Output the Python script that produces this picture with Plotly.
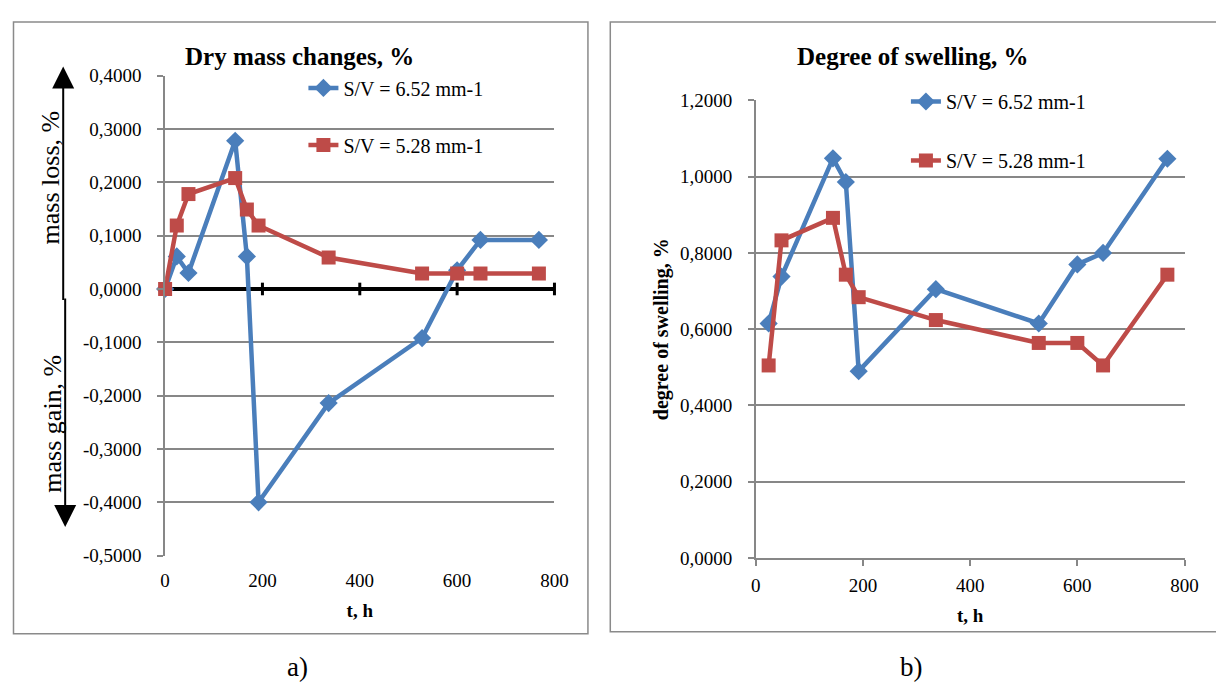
import plotly.graph_objects as go

# ---- data ----
hours_a = [0, 24, 48, 144, 168, 192, 336, 528, 600, 648, 768]
mass_652 = [0.0, 0.061, 0.030, 0.278, 0.061, -0.400, -0.214, -0.092, 0.035, 0.092, 0.092]
mass_528 = [0.0, 0.119, 0.178, 0.208, 0.149, 0.119, 0.059, 0.029, 0.029, 0.029, 0.029]

hours_b = [24, 48, 144, 168, 192, 336, 528, 600, 648, 768]
swell_652 = [0.615, 0.738, 1.048, 0.986, 0.490, 0.705, 0.615, 0.770, 0.800, 1.047]
swell_528 = [0.505, 0.833, 0.892, 0.743, 0.684, 0.624, 0.564, 0.564, 0.505, 0.743]

series_names = ["S/V = 6.52 mm-1", "S/V = 5.28 mm-1"]

x_ticks = [0, 200, 400, 600, 800]
x_ticktext = ["0", "200", "400", "600", "800"]
ya_ticks = [-0.5, -0.4, -0.3, -0.2, -0.1, 0.0, 0.1, 0.2, 0.3, 0.4]
ya_ticktext = ["-0,5000", "-0,4000", "-0,3000", "-0,2000", "-0,1000",
               "0,0000", "0,1000", "0,2000", "0,3000", "0,4000"]
yb_ticks = [0.0, 0.2, 0.4, 0.6, 0.8, 1.0, 1.2]
yb_ticktext = ["0,0000", "0,2000", "0,4000", "0,6000", "0,8000", "1,0000", "1,2000"]

# ---- styles ----
BLUE = "#4A7EBB"
RED = "#BE4B48"
GRID = "#878787"
FONT = "Liberation Serif, Times New Roman, serif"
W, H = 1224, 689
OFF = 8  # page body margin offset of the rendered figure


def px(x):
    return (x - OFF) / W


def py(y):
    return (H - (y - OFF)) / H


fig = go.Figure()

# tick marks crossing the zero line in the left chart
fig.add_trace(go.Scatter(
    x=x_ticks[1:], y=[0] * (len(x_ticks) - 1), mode="markers",
    marker=dict(symbol="line-ns", size=9, line=dict(width=3, color="black")),
    showlegend=False, hoverinfo="skip", cliponaxis=False, xaxis="x", yaxis="y"))

fig.add_trace(go.Scatter(
    x=hours_a, y=mass_652, name=series_names[0], mode="lines+markers",
    line=dict(color=BLUE, width=4.5), marker=dict(symbol="diamond", size=14, color=BLUE),
    cliponaxis=False, xaxis="x", yaxis="y", legend="legend", legendgroup="a1"))
fig.add_trace(go.Scatter(
    x=hours_a, y=mass_528, name=series_names[1], mode="lines+markers",
    line=dict(color=RED, width=4.5), marker=dict(symbol="square", size=14, color=RED),
    cliponaxis=False, xaxis="x", yaxis="y", legend="legend", legendgroup="a2"))

fig.add_trace(go.Scatter(
    x=hours_b, y=swell_652, name=series_names[0], mode="lines+markers",
    line=dict(color=BLUE, width=4.5), marker=dict(symbol="diamond", size=14, color=BLUE),
    cliponaxis=False, xaxis="x2", yaxis="y2", legend="legend2", legendgroup="b1"))
fig.add_trace(go.Scatter(
    x=hours_b, y=swell_528, name=series_names[1], mode="lines+markers",
    line=dict(color=RED, width=4.5), marker=dict(symbol="square", size=14, color=RED),
    cliponaxis=False, xaxis="x2", yaxis="y2", legend="legend2", legendgroup="b2"))

tickfont = dict(family=FONT, size=19, color="black")
titlefont = dict(family=FONT, size=19, color="black")

fig.update_layout(
    width=W, height=H,
    margin=dict(l=0, r=0, t=0, b=0),
    paper_bgcolor="white", plot_bgcolor="white",
    font=dict(family=FONT, color="black"),
    xaxis=dict(domain=[px(162.5), px(558)], anchor="y", range=[0, 800],
               tickvals=x_ticks, ticktext=x_ticktext, showgrid=False, showline=False,
               zeroline=False, ticks="", tickfont=tickfont, ticklabelstandoff=11,
               title=dict(text="<b>t, h</b>", font=titlefont, standoff=14)),
    yaxis=dict(domain=[py(562.5), py(67.5)], anchor="x", range=[-0.5, 0.4],
               tickvals=ya_ticks, ticktext=ya_ticktext, showgrid=True, gridcolor=GRID,
               gridwidth=1.5, showline=True, linecolor=GRID, linewidth=1.5,
               ticks="outside", ticklen=6, tickcolor=GRID, tickwidth=1.5,
               zeroline=True, zerolinecolor="black", zerolinewidth=3.5,
               tickfont=tickfont, ticklabelstandoff=12),
    xaxis2=dict(domain=[px(762.5), px(1198)], anchor="y2", range=[0, 800],
                tickvals=x_ticks, ticktext=x_ticktext, showgrid=False, showline=True,
                linecolor=GRID, linewidth=1.5, zeroline=False,
                ticks="outside", ticklen=6, tickcolor=GRID, tickwidth=1.5, tickfont=tickfont,
                ticklabelstandoff=3,
                title=dict(text="<b>t, h</b>", font=titlefont, standoff=14)),
    yaxis2=dict(domain=[py(565), py(93)], anchor="x2", range=[0, 1.2],
                tickvals=yb_ticks, ticktext=yb_ticktext, showgrid=True, gridcolor=GRID,
                gridwidth=1.5, showline=True, linecolor=GRID, linewidth=1.5,
                ticks="outside", ticklen=6, tickcolor=GRID, tickwidth=1.5,
                zeroline=False, tickfont=tickfont, ticklabelstandoff=12,
                title=dict(text="<b>degree of swelling, %</b>",
                           font=dict(family=FONT, size=20, color="black"), standoff=6)),
    legend=dict(x=px(303), y=py(60), xanchor="left", yanchor="top",
                bgcolor="rgba(0,0,0,0)", font=dict(family=FONT, size=20, color="black"),
                traceorder="grouped", tracegroupgap=28),
    legend2=dict(x=px(915), y=py(74), xanchor="left", yanchor="top",
                 bgcolor="rgba(0,0,0,0)", font=dict(family=FONT, size=20, color="black"),
                 traceorder="grouped", tracegroupgap=30),
    showlegend=True,
)

# chart frames
fig.add_shape(type="rect", xref="paper", yref="paper",
              x0=px(8.5), x1=px(592), y0=py(643), y1=py(12),
              line=dict(color="#8a8a8a", width=1.5), layer="below")
fig.add_shape(type="rect", xref="paper", yref="paper",
              x0=px(614.7), x1=px(1240), y0=py(641), y1=py(12),
              line=dict(color="#8a8a8a", width=1.5), layer="below")

annotations = [
    dict(text="<b>Dry mass changes, %</b>", x=px(299), y=py(48), font=dict(size=25)),
    dict(text="<b>Degree of swelling, %</b>", x=px(922), y=py(48), font=dict(size=25)),
    dict(text="a)", x=px(297), y=py(677), font=dict(size=27)),
    dict(text="b)", x=px(921), y=py(677), font=dict(size=27)),
    dict(text="mass loss, %", x=px(46), y=py(172), textangle=-90, font=dict(size=26)),
    dict(text="mass gain, %", x=px(48), y=py(426), textangle=-90, font=dict(size=26)),
]
for a in annotations:
    a.update(xref="paper", yref="paper", showarrow=False, xanchor="center", yanchor="middle")
    a["font"].update(family=FONT, color="black")
    fig.add_annotation(**a)

# arrows
fig.add_annotation(x=px(59), y=py(58), xref="paper", yref="paper", text="",
                   showarrow=True, axref="pixel", ayref="pixel", ax=0, ay=235,
                   arrowhead=2, arrowsize=2.2, arrowwidth=2, arrowcolor="black")
fig.add_annotation(x=px(61), y=py(533), xref="paper", yref="paper", text="",
                   showarrow=True, axref="pixel", ayref="pixel", ax=0, ay=-230,
                   arrowhead=2, arrowsize=2.2, arrowwidth=2, arrowcolor="black")

fig.write_html("out.html")
